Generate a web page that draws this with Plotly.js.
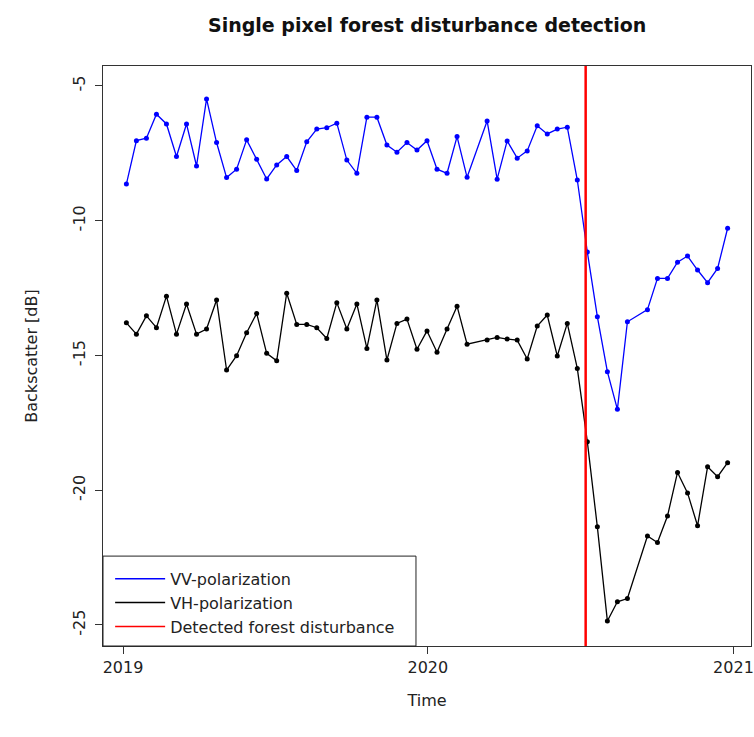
<!DOCTYPE html>
<html>
<head>
<meta charset="utf-8">
<script src="https://cdn.plot.ly/plotly-3.0.1.min.js"></script>
<style>html,body{margin:0;padding:0;background:#fff;}#chart{width:754px;height:737px;}</style>
</head>
<body>
<div id="chart"></div>
<script>
// Acquisition dates (12-day revisit, two missing acquisitions)
const dates = [
'2019-01-05','2019-01-17','2019-01-29','2019-02-10','2019-02-22','2019-03-06','2019-03-18','2019-03-30','2019-04-11','2019-04-23',
'2019-05-05','2019-05-17','2019-05-29','2019-06-10','2019-06-22','2019-07-04','2019-07-16','2019-07-28','2019-08-09','2019-08-21',
'2019-09-02','2019-09-14','2019-09-26','2019-10-08','2019-10-20','2019-11-01','2019-11-13','2019-11-25','2019-12-07','2019-12-19',
'2019-12-31','2020-01-12','2020-01-24','2020-02-05','2020-02-17','2020-03-12','2020-03-24','2020-04-05','2020-04-17','2020-04-29',
'2020-05-11','2020-05-23','2020-06-04','2020-06-16','2020-06-28','2020-07-10','2020-07-22','2020-08-03','2020-08-15','2020-08-27',
'2020-09-20','2020-10-02','2020-10-14','2020-10-26','2020-11-07','2020-11-19','2020-12-01','2020-12-13','2020-12-25'];

const vv = [
-8.64,-7.03,-6.94,-6.05,-6.41,-7.62,-6.41,-7.97,-5.48,-7.10,
-8.40,-8.09,-7.00,-7.72,-8.45,-7.93,-7.62,-8.14,-7.07,-6.60,
-6.55,-6.38,-7.75,-8.24,-6.16,-6.16,-7.19,-7.46,-7.10,-7.38,
-7.03,-8.09,-8.24,-6.88,-8.39,-6.30,-8.46,-7.04,-7.68,-7.41,
-6.48,-6.78,-6.60,-6.53,-8.49,-11.16,-13.56,-15.60,-17.00,-13.75,
-13.30,-12.14,-12.14,-11.54,-11.31,-11.83,-12.30,-11.77,-10.28];

const vh = [
-13.79,-14.21,-13.53,-13.97,-12.80,-14.21,-13.09,-14.21,-14.02,-12.94,
-15.54,-15.01,-14.16,-13.44,-14.92,-15.20,-12.69,-13.85,-13.85,-13.97,
-14.37,-13.04,-14.02,-13.09,-14.74,-12.94,-15.17,-13.81,-13.65,-14.77,
-14.09,-14.88,-14.02,-13.17,-14.58,-14.43,-14.33,-14.39,-14.43,-15.13,
-13.91,-13.50,-15.02,-13.81,-15.48,-18.20,-21.36,-24.85,-24.14,-24.02,
-21.70,-21.94,-20.96,-19.34,-20.10,-21.32,-19.13,-19.50,-18.98];

const disturbanceDate = '2020-07-08';

const xTickVals = ['2019-01-01','2020-01-01','2021-01-01'];
const xTickText = ['2019','2020','2021'];
const yTickVals = [-5,-10,-15,-20,-25];
const yTickText = ['-5','-10','-15','-20','-25'];

const seriesNames = ['VV-polarization','VH-polarization','Detected forest disturbance'];
const seriesColors = ['#0000ff','#000000','#ff0000'];

const FONT = 'DejaVu Sans, Arial, sans-serif';

const traces = [
  {x: dates, y: vv, type:'scatter', mode:'lines+markers', showlegend:false,
   line:{color:seriesColors[0], width:1.3}, marker:{color:seriesColors[0], size:5}},
  {x: dates, y: vh, type:'scatter', mode:'lines+markers', showlegend:false,
   line:{color:seriesColors[1], width:1.3}, marker:{color:seriesColors[1], size:5}}
];
// legend-only entries (lines without markers, as in the original)
seriesNames.forEach((n,i)=>{
  traces.push({x:[null], y:[null], type:'scatter', mode:'lines', name:n,
    line:{color:seriesColors[i], width:1.5}, hoverinfo:'skip'});
});

const layout = {
  width:754, height:737,
  paper_bgcolor:'#ffffff', plot_bgcolor:'#ffffff',
  margin:{l:103, r:3, t:66, b:91},
  font:{family:FONT, size:16, color:'#222'},
  title:{text:'<b>Single pixel forest disturbance detection</b>', x:0.5665, xanchor:'center',
         y:0.965, yanchor:'middle', yref:'container', font:{family:FONT, size:19, color:'#111'}},
  xaxis:{type:'date', range:['2018-12-08','2021-01-22'], tickvals:xTickVals, ticktext:xTickText,
         ticks:'outside', ticklen:7, tickwidth:1, tickcolor:'#333', showgrid:false, zeroline:false,
         showline:true, mirror:true, linecolor:'#333', linewidth:1,
         tickfont:{family:FONT, size:16, color:'#222'},
         title:{text:'Time', font:{family:FONT, size:16, color:'#222'}, standoff:18}},
  yaxis:{range:[-25.78,-4.26], tickvals:yTickVals, ticktext:yTickText, tickangle:-90,
         ticks:'outside', ticklen:7, tickwidth:1, tickcolor:'#333', showgrid:false, zeroline:false,
         showline:true, mirror:true, linecolor:'#333', linewidth:1, ticklabelstandoff:4,
         tickfont:{family:FONT, size:16, color:'#222'},
         title:{text:'Backscatter [dB]', font:{family:FONT, size:16, color:'#222'}, standoff:27}},
  shapes:[
    {type:'line', xref:'x', yref:'paper', x0:disturbanceDate, x1:disturbanceDate, y0:0, y1:1,
     line:{color:'#ff0000', width:2.5}},
    {type:'rect', xref:'paper', yref:'paper', x0:0, x1:0.483, y0:0, y1:0.155,
     line:{color:'#222', width:1}, fillcolor:'rgba(0,0,0,0)'}
  ],
  legend:{x:0.011, y:0.145, xanchor:'left', yanchor:'top', bgcolor:'rgba(0,0,0,0)',
          borderwidth:0, itemwidth:50, tracegroupgap:0,
          font:{family:FONT, size:16, color:'#222'}},
  showlegend:true
};

Plotly.newPlot('chart', traces, layout, {displayModeBar:false, staticPlot:true});
</script>
</body>
</html>
